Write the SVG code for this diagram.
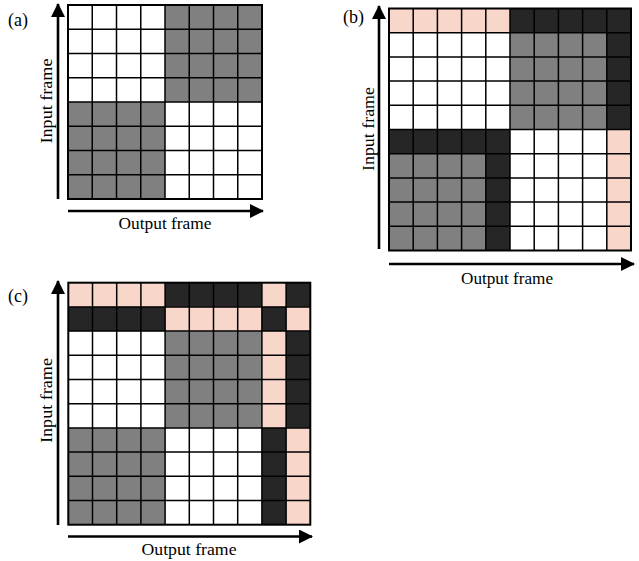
<svg xmlns="http://www.w3.org/2000/svg" width="639" height="561" viewBox="0 0 639 561">
<defs>
<style>
.lbl{font-family:"Liberation Serif","Times New Roman",serif;font-size:18px;fill:#000}
.ax{font-family:"Liberation Serif","Times New Roman",serif;font-size:17px;fill:#000}
.grid{stroke:#000;stroke-width:1.5;fill:none}
.border{stroke:#000;stroke-width:2;fill:none}
.w{fill:#fff}.g{fill:#808080}.d{fill:#262626}.p{fill:#f8d6ca}
.arr{stroke:#000;stroke-width:2.6;fill:none;marker-end:url(#ah)}
</style>
<marker id="ah" markerUnits="userSpaceOnUse" markerWidth="14" markerHeight="14" viewBox="0 0 14 14" refX="13" refY="7" orient="auto">
<path d="M0,0 L14,7 L0,14 Z" fill="#000"/>
</marker>
</defs>
<rect width="639" height="561" fill="#fff"/>

<g id="panel-a">
<text class="lbl" x="8" y="26">(a)</text>
<rect class="w" x="68" y="5" width="194" height="194"/>
<rect class="g" x="165" y="5" width="97" height="97"/>
<rect class="g" x="68" y="102" width="97" height="97"/>
<path class="grid" d="M92.25,5V199M116.5,5V199M140.75,5V199M165,5V199M189.25,5V199M213.5,5V199M237.75,5V199M68,29.25H262M68,53.5H262M68,77.75H262M68,102H262M68,126.25H262M68,150.5H262M68,174.75H262"/>
<rect class="border" x="68" y="5" width="194" height="194"/>
<text class="ax" x="165" y="229" text-anchor="middle" textLength="93" lengthAdjust="spacingAndGlyphs">Output frame</text>
<text class="ax" transform="translate(52,101) rotate(-90)" text-anchor="middle" textLength="85" lengthAdjust="spacingAndGlyphs">Input frame</text>
</g>

<g id="panel-b">
<text class="lbl" x="343" y="23">(b)</text>
<rect class="w" x="389" y="8.5" width="242" height="242"/>
<rect class="p" x="389" y="8.5" width="121" height="24.2"/>
<rect class="d" x="510" y="8.5" width="121" height="24.2"/>
<rect class="g" x="510" y="32.7" width="96.8" height="96.8"/>
<rect class="d" x="606.8" y="32.7" width="24.2" height="96.8"/>
<rect class="d" x="389" y="129.5" width="121" height="24.2"/>
<rect class="p" x="606.8" y="129.5" width="24.2" height="121"/>
<rect class="g" x="389" y="153.7" width="96.8" height="96.8"/>
<rect class="d" x="485.8" y="153.7" width="24.2" height="96.8"/>
<path class="grid" d="M413.2,8.5V250.5M437.4,8.5V250.5M461.6,8.5V250.5M485.8,8.5V250.5M510,8.5V250.5M534.2,8.5V250.5M558.4,8.5V250.5M582.6,8.5V250.5M606.8,8.5V250.5M389,32.7H631M389,56.9H631M389,81.1H631M389,105.3H631M389,129.5H631M389,153.7H631M389,177.9H631M389,202.1H631M389,226.3H631"/>
<rect class="border" x="389" y="8.5" width="242" height="242"/>
<text class="ax" x="507" y="284" text-anchor="middle" textLength="92" lengthAdjust="spacingAndGlyphs">Output frame</text>
<text class="ax" transform="translate(374,129) rotate(-90)" text-anchor="middle" textLength="84" lengthAdjust="spacingAndGlyphs">Input frame</text>
</g>

<g id="panel-c">
<text class="lbl" x="8" y="302">(c)</text>
<rect class="w" x="68.3" y="282.7" width="242" height="242"/>
<rect class="p" x="68.3" y="282.7" width="96.8" height="24.2"/>
<rect class="d" x="165.1" y="282.7" width="96.8" height="24.2"/>
<rect class="p" x="261.9" y="282.7" width="24.2" height="24.2"/>
<rect class="d" x="286.1" y="282.7" width="24.2" height="24.2"/>
<rect class="d" x="68.3" y="306.9" width="96.8" height="24.2"/>
<rect class="p" x="165.1" y="306.9" width="96.8" height="24.2"/>
<rect class="d" x="261.9" y="306.9" width="24.2" height="24.2"/>
<rect class="p" x="286.1" y="306.9" width="24.2" height="24.2"/>
<rect class="g" x="165.1" y="331.1" width="96.8" height="96.8"/>
<rect class="p" x="261.9" y="331.1" width="24.2" height="96.8"/>
<rect class="d" x="286.1" y="331.1" width="24.2" height="96.8"/>
<rect class="g" x="68.3" y="427.9" width="96.8" height="96.8"/>
<rect class="d" x="261.9" y="427.9" width="24.2" height="96.8"/>
<rect class="p" x="286.1" y="427.9" width="24.2" height="96.8"/>
<path class="grid" d="M92.5,282.7V524.7M116.7,282.7V524.7M140.9,282.7V524.7M165.1,282.7V524.7M189.3,282.7V524.7M213.5,282.7V524.7M237.7,282.7V524.7M261.9,282.7V524.7M286.1,282.7V524.7M68.3,306.9H310.3M68.3,331.1H310.3M68.3,355.3H310.3M68.3,379.5H310.3M68.3,403.7H310.3M68.3,427.9H310.3M68.3,452.1H310.3M68.3,476.3H310.3M68.3,500.5H310.3"/>
<rect class="border" x="68.3" y="282.7" width="242" height="242"/>
<text class="ax" x="189" y="555" text-anchor="middle" textLength="95" lengthAdjust="spacingAndGlyphs">Output frame</text>
<text class="ax" transform="translate(52,400.5) rotate(-90)" text-anchor="middle" textLength="85" lengthAdjust="spacingAndGlyphs">Input frame</text>
</g>

<g id="connectors">
<path class="arr" d="M58,199V4"/>
<path class="arr" d="M68,211H263"/>
<path class="arr" d="M379,249V6"/>
<path class="arr" d="M389,264H634"/>
<path class="arr" d="M58,525V281"/>
<path class="arr" d="M68,536.5H312"/>
</g>
</svg>
